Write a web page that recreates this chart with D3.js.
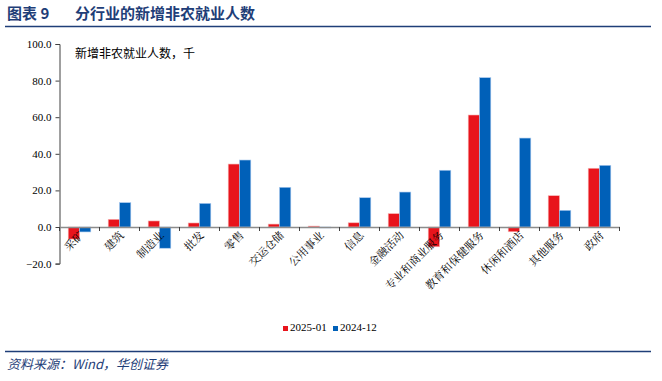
<!DOCTYPE html>
<html>
<head>
<meta charset="utf-8">
<script src="https://cdn.jsdelivr.net/npm/d3@7"></script>
<style>
body { margin: 0; background: #fff; }
svg text { font-family: "Liberation Serif", "Noto Serif CJK SC", serif; }
</style>
</head>
<body>
<div id="chart"></div>
<script>
// data
var categories = ["采矿", "建筑", "制造业", "批发", "零售", "交运仓储", "公用事业", "信息", "金融活动",
	"专业和商业服务", "教育和保健服务", "休闲和酒店", "其他服务", "政府"];
var seriesNames = ["2025-01", "2024-12"];
var jan25 = [-6.6, 4.2, 3.3, 2.2, 34.4, 1.6, 0.5, 2.3, 7.3, -10.8, 61.2, -2.6, 17.1, 32.1];
var dec24 = [-2.7, 13.3, -11.6, 12.9, 36.6, 21.7, -0.5, 16.0, 19.1, 31.0, 81.6, 48.6, 9.1, 33.7];
var yTicks = [-20, 0, 20, 40, 60, 80, 100];
var colors = ["#e8141c", "#0060b8"];

var w = 662, h = 381;
var svg = d3.select("#chart").append("svg").attr("width", w).attr("height", h);

// title
var title = svg.append("text").attr("x", 7).attr("y", 19)
	.attr("fill", "#1f3e78").attr("font-size", 15).attr("font-weight", "bold")
	.style("font-family", "'Noto Sans CJK SC', sans-serif");
title.append("tspan").text("图表 9");
title.append("tspan").attr("x", 75).text("分行业的新增非农就业人数");
svg.append("line").attr("x1", 5).attr("x2", 651).attr("y1", 26.5).attr("y2", 26.5)
	.attr("stroke", "#1f3e78").attr("stroke-width", 1.5);

// scales
var x = d3.scaleBand().domain(categories).range([59.5, 619.5]);
var y = d3.scaleLinear().domain([-20, 100]).range([263.6, 44]);
var sub = d3.scaleBand().domain([0, 1]).range([8.7, 31.3]);

// y axis
var yAxis = svg.append("g").attr("transform", "translate(59.5,0)")
	.call(d3.axisLeft(y).tickValues(yTicks).tickSize(4).tickFormat(d3.format(".1f")));
yAxis.select(".domain").attr("stroke", "#404040");
yAxis.selectAll(".tick line").attr("stroke", "#404040");
yAxis.selectAll(".tick text").attr("font-size", 11).attr("fill", "#000").attr("x", -8)
	.style("font-family", "'Liberation Serif', serif");

// bars
var data = [jan25, dec24];
data.forEach(function(vals, s) {
	svg.selectAll(".bar" + s).data(vals).enter().append("rect")
		.attr("class", "bar" + s)
		.attr("x", function(d, i) { return x(categories[i]) + sub(s); })
		.attr("width", sub.bandwidth())
		.attr("y", function(d) { return y(Math.max(0, d)); })
		.attr("height", function(d) { return Math.abs(y(d) - y(0)); })
		.attr("fill", colors[s])
		.attr("stroke", s == 0 ? "#f7b5b5" : "#a9c9ee")
		.attr("stroke-width", 0.6);
});

// x axis
var xAxis = svg.append("g").attr("transform", "translate(0," + y(0) + ")")
	.call(d3.axisBottom(x).tickSize(0).tickFormat(""));
xAxis.select(".domain").attr("stroke", "#8c8c8c").attr("stroke-width", 1.5);
xAxis.selectAll(".tick").remove();
var edges = categories.map(function(c) { return x(c); }).concat([x.range()[1]]);
svg.selectAll(".xtick").data(edges).enter().append("line")
	.attr("x1", function(d) { return d; }).attr("x2", function(d) { return d; })
	.attr("y1", y(0)).attr("y2", y(0) + 4).attr("stroke", "#404040");

// x labels
svg.selectAll(".xlab").data(categories).enter().append("text")
	.attr("transform", function(d) {
		return "translate(" + (x(d) + x.bandwidth() / 2 + 5) + "," + (y(0) + 9) + ") rotate(-45)";
	})
	.attr("text-anchor", "end").attr("font-size", 11).attr("fill", "#000")
	.style("font-family", "'Noto Serif CJK SC', 'Noto Sans CJK SC', serif")
	.text(function(d) { return d; });

// annotation
svg.append("text").attr("x", 75).attr("y", 58).attr("font-size", 12).attr("fill", "#000")
	.style("font-family", "'Noto Sans CJK SC', sans-serif")
	.text("新增非农就业人数，千");

// legend
var lg = svg.append("g").attr("transform", "translate(283,331)");
seriesNames.forEach(function(n, i) {
	var g = lg.append("g").attr("transform", "translate(" + (i * 50) + ",0)");
	g.append("rect").attr("x", 0).attr("y", -5).attr("width", 5).attr("height", 5).attr("fill", colors[i]);
	g.append("text").attr("x", 7).attr("y", 0).attr("font-size", 11).attr("fill", "#000").text(n);
});

// source
svg.append("line").attr("x1", 5).attr("x2", 651).attr("y1", 351.5).attr("y2", 351.5)
	.attr("stroke", "#1f3e78").attr("stroke-width", 1.5);
svg.append("text").attr("x", 7).attr("y", 369).attr("font-size", 13).attr("fill", "#1f3e78")
	.attr("font-style", "italic")
	.style("font-family", "'Noto Sans CJK SC', sans-serif")
	.text("资料来源：Wind，华创证券");
</script>
</body>
</html>
